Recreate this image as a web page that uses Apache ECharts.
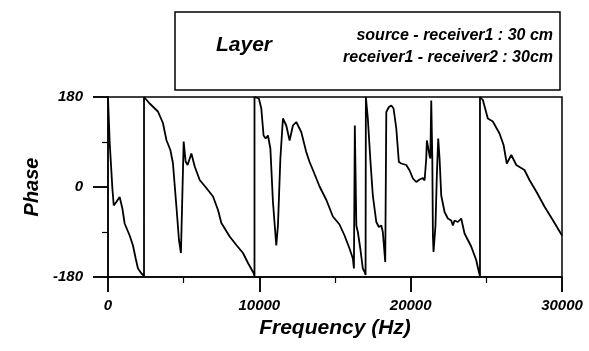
<!DOCTYPE html>
<html>
<head>
<meta charset="utf-8">
<script src="https://cdn.jsdelivr.net/npm/echarts@6/dist/echarts.min.js"></script>
<style>
html,body{margin:0;padding:0;background:#fff;}
#chart{width:589px;height:351px;background:#fff;}
</style>
</head>
<body>
<div id="chart"></div>
<script>
// Frequency (Hz) samples
const freqHz = [
  0, 110, 290, 380, 550, 770, 950, 1100, 1430, 1650, 1830, 1980, 2210, 2340, 2380,
  2380, 2490, 2750, 3300, 3630, 3860, 4120, 4290, 4520, 4690, 4820, 4900, 5000, 5130, 5260, 5510, 5730, 6060, 6500, 6940, 7270, 7490, 8040, 8480, 8920, 9250, 9620, 9680,
  9680, 9800, 9970, 10130, 10280, 10420, 10570, 10730, 10900, 11120, 11230, 11390, 11560, 11780, 12000, 12220, 12440, 12770, 13100, 13320, 13540, 13980, 14430, 14860, 15300, 15630, 15960, 16180, 16250, 16310, 16410, 16510, 16670, 16840, 16960, 17020,
  17040, 17170, 17330, 17500, 17730, 17900, 18060, 18160, 18320, 18390, 18560, 18720, 18870, 19050, 19220, 19380, 19710, 19930, 20150, 20370, 20590, 20810, 20920, 21030, 21070, 21150, 21250, 21300, 21360, 21430, 21470, 21510, 21640, 21730, 21820, 21910, 22020, 22240, 22460, 22680, 22790, 22900, 23120, 23340, 23560, 24000, 24330, 24500, 24580,
  24580, 24770, 25100, 25430, 25870, 26140, 26350, 26650, 26980, 27520, 27850, 28300, 28840, 29390, 30000
];
// Phase (degrees) at each frequency sample
const phaseDeg = [
  180, 90, -3, -37, -30, -20, -43, -73, -97, -117, -143, -163, -173, -175, -178,
  180, 177, 167, 151, 128, 94, 74, 48, -39, -106, -132, -128, 91, 51, 44, 67, 41, 14, -2, -19, -46, -72, -99, -116, -132, -152, -172, -178,
  180, 180, 177, 157, 103, 97, 103, 77, -30, -117, -77, 57, 137, 123, 93, 123, 130, 110, 70, 50, 34, 1, -26, -59, -75, -97, -123, -143, -163, 123, -77, -90, -123, -163, -170, -176,
  180, 137, 57, -17, -70, -80, -77, -90, -150, 150, 160, 163, 157, 117, 50, 47, 44, 33, 17, 10, 15, 18, 13, 57, 93, 95, 63, 57, 173, 57, -97, -130, -77, 23, 97, 57, -17, -50, -63, -67, -77, -67, -70, -63, -93, -119, -146, -169, -178,
  180, 174, 137, 131, 107, 84, 47, 64, 44, 34, 14, -9, -39, -66, -97
];
const xTicks = [0, 10000, 20000, 30000];
const yTicks = [-180, 0, 180];
const xTitle = 'Frequency (Hz)';
const yTitle = 'Phase';
const boxTitle = 'Layer';
const boxLines = ['source - receiver1 : 30 cm', 'receiver1 - receiver2 : 30cm'];

const points = freqHz.map((f, i) => [f, phaseDeg[i]]);
const FONT = '"Liberation Sans", Arial, sans-serif';
const xMin = xTicks[0], xMax = xTicks[xTicks.length - 1], xStep = xTicks[1] - xTicks[0];
const yMin = yTicks[0], yMax = yTicks[yTicks.length - 1], yStep = yTicks[1] - yTicks[0];

function tickLabel(margin) {
  return {margin: margin, formatter: v => String(v), fontFamily: FONT, fontWeight: 'bold', fontStyle: 'italic', fontSize: 15, color: '#000'};
}
// plain axes (mirroring a configuration known to draw its ticks) that only show the long major ticks
function tickOnlyAxis(min, max, step) {
  return {
    type: 'value', min: min, max: max, interval: step,
    axisLine: {show: true, onZero: false, lineStyle: {color: 'rgba(0,0,0,0)'}},
    axisTick: {show: true, length: 15, lineStyle: {color: '#000', width: 1.5}},
    axisLabel: {color: 'rgba(0,0,0,0)'},
    splitLine: {show: false}
  };
}

const chart = echarts.init(document.getElementById('chart'));
chart.setOption({
  animation: false,
  grid: {left: 108, right: 27, top: 97, bottom: 74, show: true, borderColor: '#000', borderWidth: 1.5},
  xAxis: [{
    type: 'value', min: xMin, max: xMax, interval: xStep,
    axisLine: {show: true, onZero: false, lineStyle: {color: '#000', width: 1.5}},
    axisTick: {show: true, length: 15, lineStyle: {color: '#000', width: 1.5}},
    minorTick: {show: true, splitNumber: 2, length: 6, lineStyle: {color: '#000', width: 1.2}},
    splitLine: {show: false},
    axisLabel: tickLabel(21),
    name: xTitle, nameLocation: 'middle', nameGap: 38,
    nameTextStyle: {fontFamily: FONT, fontWeight: 'bold', fontStyle: 'italic', fontSize: 21, color: '#000'}
  }, Object.assign(tickOnlyAxis(xMin, xMax, xStep), {position: 'bottom'})],
  yAxis: [{
    type: 'value', min: yMin, max: yMax, interval: yStep,
    axisLine: {show: true, onZero: false, lineStyle: {color: '#000', width: 1.5}},
    axisTick: {show: true, length: 15, lineStyle: {color: '#000', width: 1.5}},
    minorTick: {show: true, splitNumber: 2, length: 6, lineStyle: {color: '#000', width: 1.2}},
    splitLine: {show: false},
    axisLabel: tickLabel(25),
    name: yTitle, nameLocation: 'middle', nameGap: 63, nameRotate: 90,
    nameTextStyle: {fontFamily: FONT, fontWeight: 'bold', fontStyle: 'italic', fontSize: 20, color: '#000'}
  }, Object.assign(tickOnlyAxis(yMin, yMax, yStep), {position: 'left'})],
  graphic: [
    {type: 'rect', shape: {x: 175, y: 12, width: 385, height: 78}, style: {fill: '#fff', stroke: '#000', lineWidth: 1.5}},
    {type: 'text', x: 244, y: 45, style: {text: boxTitle, font: 'italic bold 21px ' + FONT, fill: '#000', textAlign: 'center', textVerticalAlign: 'middle'}},
    {type: 'text', x: 553, y: 36, style: {text: boxLines[0], font: 'italic bold 16px ' + FONT, fill: '#000', textAlign: 'right', textVerticalAlign: 'middle'}},
    {type: 'text', x: 553, y: 58, style: {text: boxLines[1], font: 'italic bold 16px ' + FONT, fill: '#000', textAlign: 'right', textVerticalAlign: 'middle'}}
  ],
  series: [{
    type: 'line', data: points, xAxisIndex: 0, yAxisIndex: 0, showSymbol: false, symbol: 'none',
    lineStyle: {color: '#000', width: 1.8}, clip: true
  }, {
    type: 'line', data: points, xAxisIndex: 1, yAxisIndex: 1, showSymbol: false, symbol: 'none', silent: true,
    lineStyle: {opacity: 0}
  }]
});
</script>
</body>
</html>
